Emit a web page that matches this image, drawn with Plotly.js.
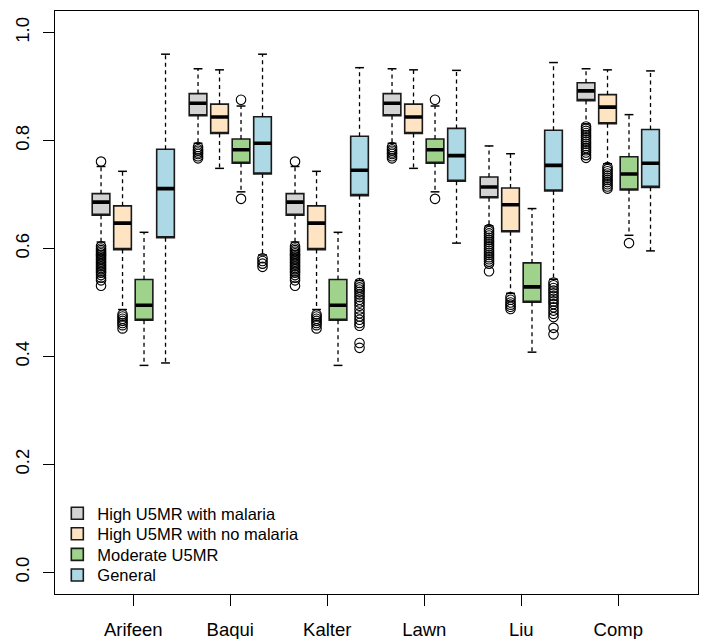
<!DOCTYPE html>
<html>
<head>
<meta charset="utf-8">
<script src="https://cdn.plot.ly/plotly-3.0.1.min.js"></script>
<style>html,body{margin:0;padding:0;background:#fff;}#chart{width:702px;height:639px;}</style>
</head>
<body>
<div id="chart"></div>
<script>
// ---- data ----
const categories = ['Arifeen', 'Baqui', 'Kalter', 'Lawn', 'Liu', 'Comp'];
const seriesNames = ['High U5MR with malaria', 'High U5MR with no malaria', 'Moderate U5MR', 'General'];
const seriesColors = ['#D3D3D3', '#FFE4C4', '#9FD38C', '#ADD8E6'];
const yTickVals = [0, 0.2, 0.4, 0.6, 0.8, 1.0];
const yTickText = ['0.0', '0.2', '0.4', '0.6', '0.8', '1.0'];

// High U5MR with malaria
const malariaLow    = [0.612, 0.795, 0.612, 0.795, 0.642, 0.831];
const malariaQ1     = [0.6615, 0.846, 0.6615, 0.846, 0.694, 0.874];
const malariaMedian = [0.686, 0.869, 0.686, 0.869, 0.714, 0.892];
const malariaQ3     = [0.7016, 0.887, 0.7016, 0.887, 0.7325, 0.907];
const malariaHigh   = [0.752, 0.933, 0.752, 0.933, 0.790, 0.933];
const malariaOut = [
  [0.761, 0.604, 0.600, 0.597, 0.594, 0.591, 0.588, 0.585, 0.582, 0.579, 0.576, 0.573, 0.570, 0.567, 0.564, 0.561, 0.558, 0.555, 0.551, 0.546, 0.541, 0.531],
  [0.788, 0.784, 0.781, 0.778, 0.775, 0.771, 0.767],
  [0.761, 0.604, 0.600, 0.597, 0.594, 0.591, 0.588, 0.585, 0.582, 0.579, 0.576, 0.573, 0.570, 0.567, 0.564, 0.561, 0.558, 0.555, 0.551, 0.546, 0.541, 0.531],
  [0.788, 0.784, 0.781, 0.778, 0.775, 0.771, 0.767],
  [0.636, 0.632, 0.628, 0.624, 0.620, 0.616, 0.612, 0.608, 0.604, 0.600, 0.596, 0.592, 0.588, 0.584, 0.580, 0.576, 0.572, 0.558],
  [0.826, 0.822, 0.818, 0.814, 0.810, 0.806, 0.802, 0.798, 0.794, 0.790, 0.786, 0.782, 0.778, 0.773, 0.768]
];

// High U5MR with no malaria
const noMalariaLow    = [0.487, 0.7485, 0.487, 0.7485, 0.517, 0.757];
const noMalariaQ1     = [0.598, 0.813, 0.598, 0.813, 0.631, 0.831];
const noMalariaMedian = [0.647, 0.8435, 0.647, 0.8435, 0.681, 0.862];
const noMalariaQ3     = [0.679, 0.8675, 0.679, 0.8675, 0.712, 0.885];
const noMalariaHigh   = [0.743, 0.931, 0.743, 0.931, 0.7756, 0.931];
const noMalariaOut = [
  [0.478, 0.474, 0.470, 0.466, 0.462, 0.458, 0.452],
  [],
  [0.478, 0.474, 0.470, 0.466, 0.462, 0.458, 0.452],
  [],
  [0.510, 0.505, 0.500, 0.496, 0.492, 0.488],
  [0.751, 0.747, 0.743, 0.739, 0.735, 0.731, 0.727, 0.723, 0.719, 0.715, 0.711]
];

// Moderate U5MR
const moderateLow    = [0.3835, 0.705, 0.3835, 0.705, 0.408, 0.6245];
const moderateQ1     = [0.467, 0.758, 0.467, 0.758, 0.5006, 0.7085];
const moderateMedian = [0.495, 0.783, 0.495, 0.783, 0.529, 0.738];
const moderateQ3     = [0.5425, 0.803, 0.5425, 0.803, 0.5734, 0.770];
const moderateHigh   = [0.630, 0.864, 0.630, 0.864, 0.674, 0.848];
const moderateOut = [
  [],
  [0.8755, 0.692],
  [],
  [0.8755, 0.692],
  [],
  [0.610]
];

// General
const generalLow    = [0.388, 0.588, 0.541, 0.610, 0.543, 0.5956];
const generalQ1     = [0.620, 0.738, 0.698, 0.7245, 0.7066, 0.7133];
const generalMedian = [0.711, 0.795, 0.745, 0.772, 0.754, 0.758];
const generalQ3     = [0.784, 0.844, 0.808, 0.8225, 0.819, 0.8206];
const generalHigh   = [0.960, 0.960, 0.935, 0.930, 0.9445, 0.929];
const generalOut = [
  [],
  [0.582, 0.577, 0.572, 0.566],
  [0.536, 0.532, 0.528, 0.524, 0.520, 0.515, 0.510, 0.505, 0.500, 0.494, 0.487, 0.480, 0.474, 0.468, 0.462, 0.457, 0.425, 0.416],
  [],
  [0.537, 0.532, 0.527, 0.522, 0.517, 0.512, 0.507, 0.502, 0.497, 0.491, 0.485, 0.479, 0.473, 0.453, 0.441],
  []
];

const series = [
  {low: malariaLow, q1: malariaQ1, med: malariaMedian, q3: malariaQ3, high: malariaHigh, out: malariaOut},
  {low: noMalariaLow, q1: noMalariaQ1, med: noMalariaMedian, q3: noMalariaQ3, high: noMalariaHigh, out: noMalariaOut},
  {low: moderateLow, q1: moderateQ1, med: moderateMedian, q3: moderateQ3, high: moderateHigh, out: moderateOut},
  {low: generalLow, q1: generalQ1, med: generalMedian, q3: generalQ3, high: generalHigh, out: generalOut}
];

// ---- layout constants ----
const STEP = 0.2216;      // spacing between boxes inside a group (category units)
const BOXW = 0.182;       // box width (category units)
const LINE = '#1a1a1a';
const FONT = '"Liberation Sans", Arial, Helvetica, sans-serif';
const legendIds = ['legend', 'legend2', 'legend3', 'legend4'];
const legendRowPx = [513.5, 534.1, 554.7, 575.3];   // row centres in page pixels
const PLOT_TOP = 11, PLOT_H = 583;

const whiskerTraces = [], boxTraces = [], medianTraces = [], capTraces = [], outTraces = [];

series.forEach((s, j) => {
  const xs = categories.map((c, i) => i + (j - 1.5) * STEP);
  // dashed whiskers
  const wx = [], wy = [];
  xs.forEach((x, i) => {
    wx.push(x, x, null, x, x, null);
    wy.push(s.q3[i], s.high[i], null, s.q1[i], s.low[i], null);
  });
  whiskerTraces.push({
    type: 'scatter', mode: 'lines', x: wx, y: wy, connectgaps: false,
    line: {color: '#000', width: 1.3, dash: '4px,3.5px'},
    showlegend: false, hoverinfo: 'skip'
  });
  // filled boxes (solid outline)
  boxTraces.push({
    type: 'box', x: xs, q1: s.q1, median: s.q1, q3: s.q3,
    lowerfence: s.q1, upperfence: s.q3,
    width: BOXW, whiskerwidth: 0, boxpoints: false,
    fillcolor: seriesColors[j],
    line: {color: LINE, width: 1.6},
    name: seriesNames[j], showlegend: true, legend: legendIds[j], hoverinfo: 'skip'
  });
  // thick median bars
  medianTraces.push({
    type: 'box', x: xs, q1: s.med, median: s.med, q3: s.med,
    lowerfence: s.med, upperfence: s.med,
    width: BOXW * 0.97, whiskerwidth: 0, boxpoints: false,
    fillcolor: '#000',
    line: {color: '#000', width: 3.6},
    showlegend: false, hoverinfo: 'skip'
  });
  // whisker staples
  capTraces.push({
    type: 'scatter', mode: 'markers',
    x: xs.concat(xs), y: s.low.concat(s.high),
    marker: {symbol: 'line-ew-open', size: 6.3, color: '#000', line: {color: '#000', width: 1.5}},
    showlegend: false, hoverinfo: 'skip'
  });
  // outliers
  const ox = [], oy = [];
  s.out.forEach((arr, i) => arr.forEach(v => { ox.push(xs[i]); oy.push(v); }));
  outTraces.push({
    type: 'scatter', mode: 'markers', x: ox, y: oy,
    marker: {symbol: 'circle-open', size: 9.5, color: '#000', line: {color: '#000', width: 1.1}},
    showlegend: false, hoverinfo: 'skip'
  });
});

const traces = [...boxTraces, ...medianTraces, ...whiskerTraces, ...capTraces, ...outTraces];

const layout = {
  width: 702, height: 639,
  margin: {l: 55, r: 4, t: PLOT_TOP, b: 639 - PLOT_TOP - PLOT_H},
  paper_bgcolor: '#fff', plot_bgcolor: '#fff',
  font: {family: FONT, color: '#000', size: 18},
  showlegend: true,
  boxmode: 'overlay',
  xaxis: {
    range: [-0.807, 5.822],
    tickmode: 'array', tickvals: categories.map((c, i) => i), ticktext: categories,
    ticks: 'outside', ticklen: 11, tickwidth: 1.3, tickcolor: '#000',
    showline: true, linecolor: '#000', linewidth: 1.4, mirror: true,
    showgrid: false, zeroline: false,
    ticklabelstandoff: 7,
    tickfont: {size: 18.5, family: FONT, color: '#000'}
  },
  yaxis: {
    range: [-0.04, 1.04],
    tickmode: 'array', tickvals: yTickVals, ticktext: yTickText,
    ticks: 'outside', ticklen: 11, tickwidth: 1.3, tickcolor: '#000',
    tickangle: -90,
    showline: true, linecolor: '#000', linewidth: 1.4, mirror: true,
    showgrid: false, zeroline: false,
    ticklabelstandoff: 6,
    tickfont: {size: 18.5, family: FONT, color: '#000'}
  }
};

legendIds.forEach((id, j) => {
  layout[id] = {
    x: 0.0036, y: (PLOT_TOP + PLOT_H - legendRowPx[j]) / PLOT_H,
    xanchor: 'left', yanchor: 'middle',
    bgcolor: 'rgba(0,0,0,0)', borderwidth: 0,
    font: {size: 16.5, family: FONT, color: '#000'},
    itemclick: false, itemdoubleclick: false
  };
});

Plotly.newPlot('chart', traces, layout, {displayModeBar: false, staticPlot: true});
</script>
</body>
</html>
